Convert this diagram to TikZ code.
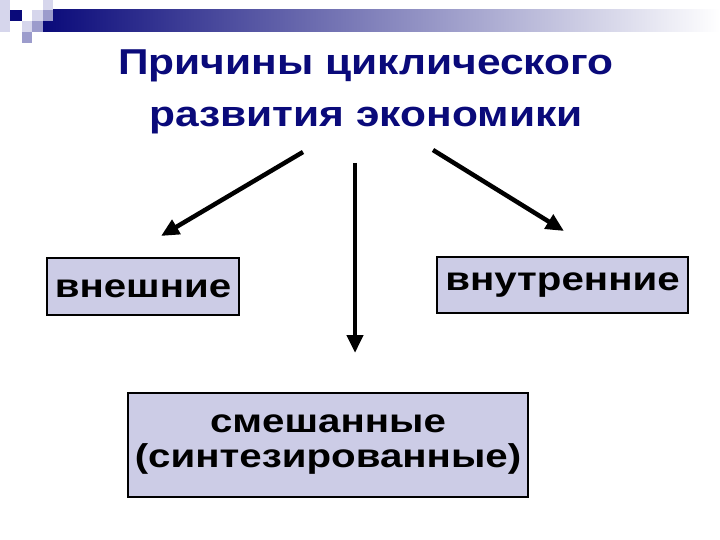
\documentclass[tikz,border=0pt]{standalone}
\usepackage{fontspec}
\setmainfont{Liberation Sans}
\newfontfamily\titlefont{Liberation Sans Bold}[FakeStretch=1.18]
\newfontfamily\boxfont{Liberation Sans Bold}[FakeStretch=1.22]
\usetikzlibrary{arrows.meta}
\definecolor{navy}{RGB}{10,10,122}
\definecolor{boxfill}{RGB}{204,204,230}
\definecolor{sqlight}{RGB}{214,214,236}
\definecolor{sqmid}{RGB}{156,156,204}
\tikzset{
  catbox/.style={draw=black, line width=1.5pt, fill=boxfill, inner sep=0pt,
    font=\boxfont\fontsize{33}{35}\selectfont, text=black, align=center},
  arr/.style={line width=4.5pt, -{Triangle[length=18pt,width=16pt]}},
  titletext/.style={font=\titlefont\fontsize{36}{52}\selectfont, text=navy, align=center, inner sep=0pt}
}
\begin{document}
\begin{tikzpicture}[x=1pt,y=-1pt]
\useasboundingbox (0,0) rectangle (720,540);
% decoration
\shade[left color=navy, right color=white, draw=none] (43,10) rectangle (720,32);
\fill[sqlight] (0,0) rectangle (10,32);
\fill[navy] (10,10) rectangle (22,21);
\fill[sqlight] (32,10) rectangle (43,21);
\fill[sqlight] (43,0) rectangle (53,10);
\fill[sqmid] (43,10) rectangle (53,21);
\fill[sqlight] (22,21) rectangle (32,32);
\fill[sqmid] (32,21) rectangle (43,32);
\fill[sqmid] (22,32) rectangle (32,43);
% title
\node[titletext, anchor=north] (title) at (366,50) {Причины циклического\\развития экономики};
% boxes
\node[catbox, minimum width=192pt, minimum height=57pt, text height=21pt, text depth=0pt] (ext) at (143,286.5) {внешние};
\node[catbox, minimum width=251pt, minimum height=56pt, text height=10pt, text depth=0pt] (int) at (562.5,285) {внутренние};
\node[catbox, minimum width=400pt, minimum height=104pt] (mix) at (328,445) {смешанные\\(синтезированные)};
% arrow coordinates
\coordinate (a1s) at (303,152);
\coordinate (a1e) at (161,236);
\coordinate (a2s) at (433,150);
\coordinate (a2e) at (564,231);
\coordinate (a3s) at (355,163);
\coordinate (a3e) at (355,353);
\draw[arr] (a1s) -- (a1e);
\draw[arr] (a2s) -- (a2e);
\draw[arr] (a3s) -- (a3e);
\end{tikzpicture}
\end{document}
